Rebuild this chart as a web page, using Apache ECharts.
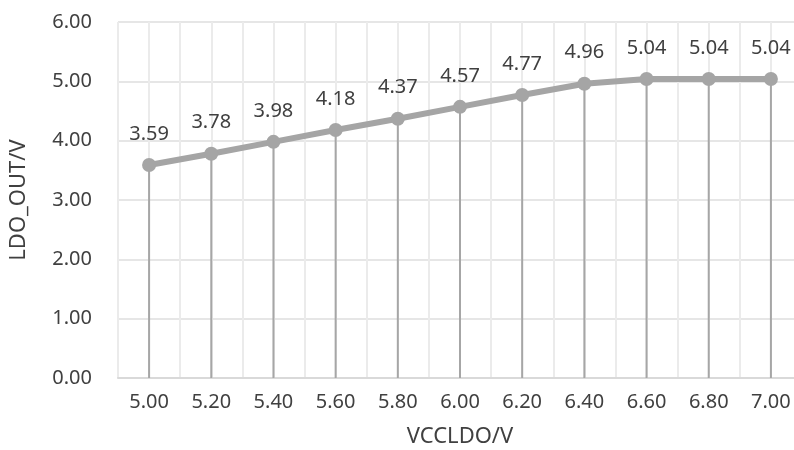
<!DOCTYPE html>
<html>
<head>
<meta charset="utf-8">
<script src="https://cdn.jsdelivr.net/npm/echarts@6/dist/echarts.min.js"></script>
<style>html,body{margin:0;padding:0;background:#fff;}#c{width:794px;height:450px;}</style>
</head>
<body>
<div id="c"></div>
<script>
var categories = ['5.00','5.20','5.40','5.60','5.80','6.00','6.20','6.40','6.60','6.80','7.00'];
var values = [3.59, 3.78, 3.98, 4.18, 4.37, 4.57, 4.77, 4.96, 5.04, 5.04, 5.04];
var yTicks = {min: 0, max: 6, interval: 1};
var xName = 'VCCLDO/V';
var yName = 'LDO_OUT/V';

var halfCats = [];
for (var i = 0; i < categories.length * 2; i++) halfCats.push('');

var font = '"Noto Sans", "Open Sans", "Liberation Sans", Arial, sans-serif';
var chart = echarts.init(document.getElementById('c'), null, {renderer: 'canvas'});
chart.setOption({
  animation: false,
  backgroundColor: '#ffffff',
  grid: {left: 118, top: 22, width: 684, height: 356, containLabel: false, outerBoundsMode: 'none'},
  xAxis: [{
    type: 'category',
    data: categories,
    boundaryGap: true,
    name: xName,
    nameLocation: 'middle',
    nameGap: 48,
    nameTextStyle: {fontSize: 22, color: '#404040', fontFamily: font},
    axisLine: {show: true, lineStyle: {color: '#d9d9d9', width: 2}},
    axisTick: {show: false},
    axisLabel: {fontSize: 20, color: '#404040', fontFamily: font, margin: 14},
    splitLine: {show: false}
  }, {
    type: 'category',
    data: halfCats,
    boundaryGap: true,
    position: 'bottom',
    axisLine: {show: false},
    axisTick: {show: false},
    axisLabel: {show: false},
    splitLine: {show: true, interval: 0, lineStyle: {color: '#ebebeb', width: 2}}
  }],
  yAxis: {
    type: 'value',
    min: yTicks.min, max: yTicks.max, interval: yTicks.interval,
    name: yName,
    nameLocation: 'middle',
    nameGap: 88,
    nameRotate: 90,
    nameTextStyle: {fontSize: 22, color: '#404040', fontFamily: font},
    axisLine: {show: false},
    axisTick: {show: false},
    axisLabel: {fontSize: 20, color: '#404040', fontFamily: font, margin: 26,
      formatter: function (v) { return v.toFixed(2); }},
    splitLine: {show: true, lineStyle: {color: '#e6e6e6', width: 2}}
  },
  series: [{
    type: 'bar',
    data: values,
    barWidth: 2,
    itemStyle: {color: '#a6a6a6'},
    silent: true,
    z: 2
  }, {
    type: 'line',
    data: values,
    symbol: 'circle',
    symbolSize: 14,
    lineStyle: {color: '#a5a5a5', width: 6},
    itemStyle: {color: '#a5a5a5'},
    label: {show: true, position: 'top', distance: 14, fontSize: 20, color: '#404040', fontFamily: font,
      formatter: function (p) { return p.value.toFixed(2); }},
    z: 3
  }]
});
</script>
</body>
</html>
